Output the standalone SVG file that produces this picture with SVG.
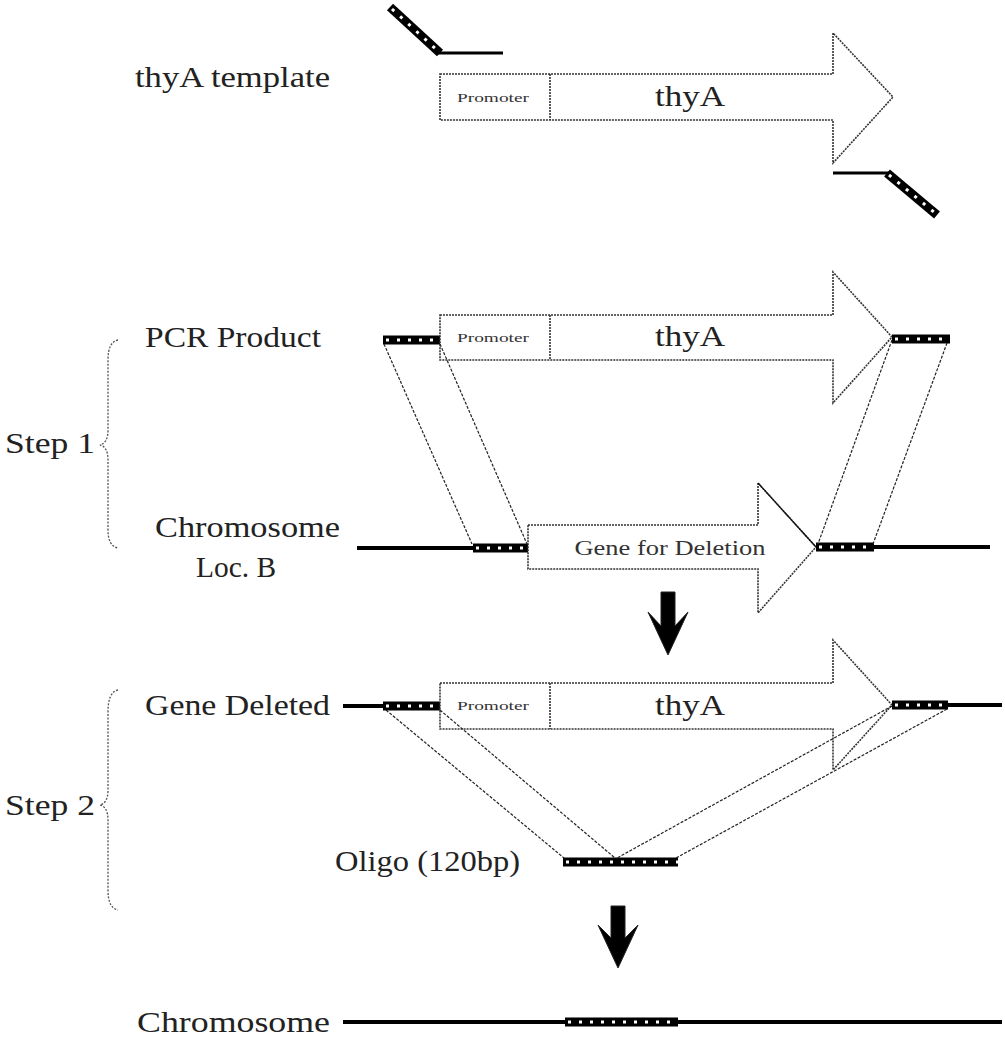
<svg xmlns="http://www.w3.org/2000/svg" width="1005" height="1043" viewBox="0 0 1005 1043">
<defs>
<style>
.lbl{font-family:"Liberation Serif","Times New Roman",serif;font-size:30px;fill:#222;}
.gene{font-family:"Liberation Serif","Times New Roman",serif;font-size:29px;fill:#222;text-anchor:middle;}
.prom{font-family:"Liberation Serif","Times New Roman",serif;font-size:13px;fill:#333;text-anchor:middle;}
.del{font-family:"Liberation Serif","Times New Roman",serif;font-size:20px;fill:#333;text-anchor:middle;}
.outline{fill:#fff;stroke:#333;stroke-width:1.6;stroke-dasharray:2 1;}
.conn{fill:none;stroke:#222;stroke-width:1.2;stroke-dasharray:3 1.5;}
.chrom{stroke:#000;stroke-width:4;fill:none;}
.blk{stroke:#000;stroke-width:9;fill:none;}
.blkx{stroke:#fff;stroke-width:3;stroke-dasharray:3 8;fill:none;}
.brace{fill:none;stroke:#555;stroke-width:1.3;stroke-dasharray:2 1.5;}
.bigarrow{fill:#000;stroke:#222;stroke-width:1;}
</style>
</defs>
<rect width="1005" height="1043" fill="#fff"/>

<!-- Top: thyA template -->
<g id="label-thyA-template"><text class="lbl" x="135" y="87" textLength="195" lengthAdjust="spacingAndGlyphs">thyA template</text></g>
<g id="primer-top">
<line class="blk" x1="390" y1="7" x2="440" y2="53"/>
<line class="blkx" x1="392" y1="9" x2="438" y2="51"/>
<line x1="438" y1="53" x2="503" y2="53" stroke="#000" stroke-width="3"/>
</g>
<g id="thyA-template-arrow">
<polygon class="outline" points="440,74 833,74 833,33 893,97 833,163 833,120 440,120"/>
<line class="outline" x1="550" y1="74" x2="550" y2="120"/>
<text class="prom" x="493" y="102" textLength="72" lengthAdjust="spacingAndGlyphs">Promoter</text>
<text class="gene" x="690" y="106" textLength="70" lengthAdjust="spacingAndGlyphs">thyA</text>
</g>
<g id="primer-bottom">
<line x1="833" y1="173" x2="889" y2="173" stroke="#000" stroke-width="3"/>
<line class="blk" x1="887" y1="173" x2="937" y2="215"/>
<line class="blkx" x1="889" y1="175" x2="935" y2="213"/>
</g>

<!-- Step 1 -->
<g id="step1">
<text class="lbl" x="5" y="453" textLength="90" lengthAdjust="spacingAndGlyphs">Step 1</text>
<path class="brace" d="M118,340 Q108,342 108,360 L108,430 Q108,443 100,445 Q108,447 108,460 L108,530 Q108,546 118,548"/>
</g>
<g id="pcr-product">
<text class="lbl" x="145" y="347" textLength="176" lengthAdjust="spacingAndGlyphs">PCR Product</text>
<line class="blk" x1="383" y1="340" x2="440" y2="340"/>
<line class="blkx" x1="386" y1="340" x2="440" y2="340"/>
<polygon class="outline" points="440,315 833,315 833,272 892,337 833,403 833,360 440,360"/>
<line class="outline" x1="550" y1="315" x2="550" y2="360"/>
<text class="prom" x="493" y="342" textLength="72" lengthAdjust="spacingAndGlyphs">Promoter</text>
<text class="gene" x="690" y="346" textLength="70" lengthAdjust="spacingAndGlyphs">thyA</text>
<line class="blk" x1="892" y1="339" x2="950" y2="339"/>
<line class="blkx" x1="895" y1="339" x2="950" y2="339"/>
</g>
<g id="chromosome-locB">
<text class="lbl" x="155" y="537" textLength="185" lengthAdjust="spacingAndGlyphs">Chromosome</text>
<text class="lbl" x="196" y="577" textLength="80" lengthAdjust="spacingAndGlyphs">Loc. B</text>
<line class="chrom" x1="357" y1="548" x2="474" y2="548"/>
<line class="blk" x1="473" y1="548" x2="529" y2="548"/>
<line class="blkx" x1="476" y1="548" x2="529" y2="548"/>
<polygon class="outline" points="528,525 758,525 758,483 816,547 758,613 758,569 528,569"/>
<line x1="758" y1="483" x2="816" y2="547" stroke="#111" stroke-width="1.2"/>
<text class="del" x="670" y="555" textLength="191" lengthAdjust="spacingAndGlyphs">Gene for Deletion</text>
<line class="blk" x1="816" y1="547" x2="874" y2="547"/>
<line class="blkx" x1="819" y1="547" x2="874" y2="547"/>
<line class="chrom" x1="873" y1="547" x2="990" y2="547"/>
</g>
<g id="arrow-down-1">
<polygon class="bigarrow" points="661,592 675,592 675,626 688,612 668,655 648,612 661,626"/>
</g>

<!-- Step 2 -->
<g id="step2">
<text class="lbl" x="5" y="815" textLength="90" lengthAdjust="spacingAndGlyphs">Step 2</text>
<path class="brace" d="M118,690 Q108,692 108,712 L108,790 Q108,803 100,805 Q108,807 108,820 L108,890 Q108,908 118,910"/>
</g>
<g id="gene-deleted">
<text class="lbl" x="145" y="715" textLength="185" lengthAdjust="spacingAndGlyphs">Gene Deleted</text>
<line class="chrom" x1="343" y1="706" x2="384" y2="706"/>
<line class="blk" x1="383" y1="706" x2="440" y2="706"/>
<line class="blkx" x1="386" y1="706" x2="440" y2="706"/>
<polygon class="outline" points="440,683 833,683 833,640 892,705 833,770 833,729 440,729"/>
<line class="outline" x1="550" y1="683" x2="550" y2="729"/>
<text class="prom" x="493" y="710" textLength="72" lengthAdjust="spacingAndGlyphs">Promoter</text>
<text class="gene" x="690" y="715" textLength="70" lengthAdjust="spacingAndGlyphs">thyA</text>
<line class="blk" x1="892" y1="705" x2="948" y2="705"/>
<line class="blkx" x1="895" y1="705" x2="948" y2="705"/>
<line class="chrom" x1="947" y1="705" x2="1002" y2="705"/>
</g>
<g id="oligo">
<text class="lbl" x="335" y="871" textLength="185" lengthAdjust="spacingAndGlyphs">Oligo (120bp)</text>
<line class="blk" x1="563" y1="862" x2="678" y2="862"/>
<line class="blkx" x1="566" y1="862" x2="678" y2="862"/>
</g>
<g id="arrow-down-2">
<polygon class="bigarrow" points="611,906 625,906 625,938 638,925 618,968 598,925 611,938"/>
</g>

<!-- Final chromosome -->
<g id="chromosome-final">
<text class="lbl" x="137" y="1032" textLength="193" lengthAdjust="spacingAndGlyphs">Chromosome</text>
<line class="chrom" x1="343" y1="1022" x2="566" y2="1022"/>
<line class="blk" x1="565" y1="1022" x2="678" y2="1022"/>
<line class="blkx" x1="568" y1="1022" x2="678" y2="1022"/>
<line class="chrom" x1="677" y1="1022" x2="1002" y2="1022"/>
</g>

<!-- Connectors -->
<g id="connectors">
<line class="conn" x1="384" y1="344" x2="472" y2="544"/>
<line class="conn" x1="440" y1="344" x2="527" y2="544"/>
<line class="conn" x1="892" y1="340" x2="818" y2="544"/>
<line class="conn" x1="947" y1="343" x2="873" y2="544"/>
<line class="conn" x1="386" y1="710" x2="564" y2="858"/>
<line class="conn" x1="440" y1="710" x2="615" y2="858"/>
<line class="conn" x1="892" y1="706" x2="617" y2="858"/>
<line class="conn" x1="947" y1="709" x2="676" y2="858"/>
</g>
</svg>
